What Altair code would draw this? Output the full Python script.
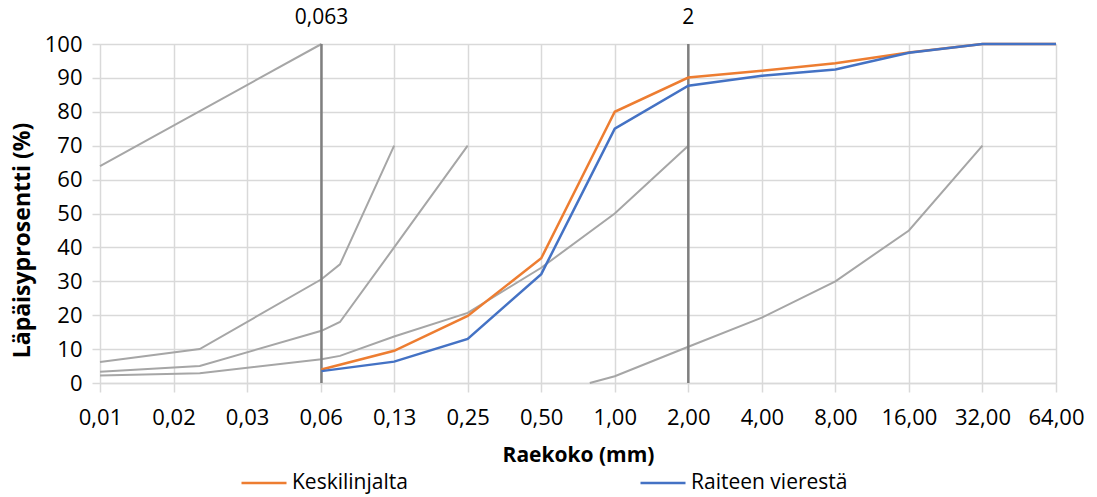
import altair as alt
import pandas as pd

# ---- data ----
tick_values = [0.0078125, 0.015625, 0.03125, 0.0625, 0.125, 0.25, 0.5, 1, 2, 4, 8, 16, 32, 64]
y_ticks = [0, 10, 20, 30, 40, 50, 60, 70, 80, 90, 100]

sieve = [0.063, 0.125, 0.25, 0.5, 1, 2, 4, 8, 16, 32, 64]
keskilinjalta = [4.0, 9.5, 19.8, 36.8, 80.0, 90.1, 92.1, 94.3, 97.5, 100, 100]
raiteen_vieresta = [3.5, 6.3, 13.0, 32.1, 75.0, 87.7, 90.6, 92.5, 97.4, 100, 100]

g1_x = [0.0078125, 0.063]
g1_y = [64, 100]
g2_x = [0.0078125, 0.02, 0.063, 0.075, 0.125]
g2_y = [6.2, 10, 30.6, 35, 70]
g3_x = [0.0078125, 0.02, 0.063, 0.075, 0.125, 0.25]
g3_y = [3.3, 5, 15.4, 18, 40, 70]
g4_x = [0.0078125, 0.02, 0.063, 0.075, 0.125, 0.25, 0.5, 1, 2]
g4_y = [2.2, 2.9, 7, 8, 13.7, 20.7, 34, 50, 70]
g5_x = [0.79, 1, 2, 4, 8, 16, 32]
g5_y = [0, 2, 10.7, 19.3, 30, 45, 70]

ref_x = [0.063, 2]
ref_label = ["0,063", "2"]

series_names = ["Keskilinjalta", "Raiteen vierestä"]
series_colors = ["#ED7D31", "#4472C4"]

FONT = "Open Sans"

# ---- tables ----
rows = []
for name, vals in zip(series_names, [keskilinjalta, raiteen_vieresta]):
    for i, (x, y) in enumerate(zip(sieve, vals)):
        rows.append({"series": name, "x": x, "y": y, "order": i})
main_df = pd.DataFrame(rows)

grows = []
for gi, (gx, gy) in enumerate([(g1_x, g1_y), (g2_x, g2_y), (g3_x, g3_y), (g4_x, g4_y), (g5_x, g5_y)]):
    for i, (x, y) in enumerate(zip(gx, gy)):
        grows.append({"curve": f"g{gi+1}", "x": x, "y": y, "order": i})
gray_df = pd.DataFrame(grows)

ref_df = pd.DataFrame({"x": ref_x, "label": ref_label})

xscale = alt.Scale(type="log", base=2, domain=[0.0078125, 64], nice=False)
yscale = alt.Scale(domain=[0, 100], nice=False)

xaxis = alt.Axis(
    values=tick_values,
    labelExpr="replace(format(datum.value, '.2f'), '.', ',')",
    title="Raekoko (mm)",
    grid=True, gridColor="#D9D9D9", gridWidth=1.5,
    tickColor="#D9D9D9", tickSize=9, tickWidth=1.5,
    domainColor="#D9D9D9", domainWidth=1.5,
    labelPadding=25, labelBaseline="middle",
    labelFont=FONT, labelFontSize=22, labelColor="#000000",
    titleFont=FONT, titleFontSize=21, titleFontWeight="bold", titleColor="#000000",
    titleX=478, titleY=72, titleBaseline="middle",
    labelFlush=False, labelOverlap=False,
)
yaxis = alt.Axis(
    values=y_ticks,
    title="Läpäisyprosentti (%)",
    grid=True, gridColor="#D9D9D9", gridWidth=1.5,
    tickColor="#D9D9D9", tickSize=8, tickWidth=1.5,
    domain=False,
    labelPadding=10,
    labelFont=FONT, labelFontSize=22, labelColor="#000000",
    titleFont=FONT, titleFontSize=23, titleFontWeight="bold", titleColor="#000000",
    titleX=-78, titleY=196, titleBaseline="middle", titleAngle=-90,
    labelFlush=False, labelOverlap=False,
)

X = alt.X("x:Q", scale=xscale, axis=xaxis)
Y = alt.Y("y:Q", scale=yscale, axis=yaxis)

gray = alt.Chart(gray_df).mark_line(color="#A6A6A6", strokeWidth=2).encode(
    x=X, y=Y,
    detail="curve:N",
    order="order:Q",
)

rules = alt.Chart(ref_df).mark_rule(color="#7F7F7F", strokeWidth=2.5).encode(
    x=X,
)
rule_text = alt.Chart(ref_df).mark_text(font=FONT, fontSize=21, color="#000000", baseline="middle").encode(
    x=X,
    y=alt.value(-26),
    text="label:N",
)

main = alt.Chart(main_df).mark_line(strokeWidth=2.5).encode(
    x=X, y=Y,
    color=alt.Color(
        "series:N",
        scale=alt.Scale(domain=series_names, range=series_colors),
        legend=alt.Legend(
            title=None, orient="none", legendX=140, legendY=415,
            direction="horizontal", columns=2, columnPadding=227,
            symbolType="stroke", symbolSize=2025, symbolStrokeWidth=2.5,
            labelFont=FONT, labelFontSize=21, labelColor="#000000",
            labelOffset=4, padding=0,
        ),
    ),
    order="order:Q",
)

chart = alt.layer(gray, rules, rule_text, main).properties(
    width=956, height=339,
    autosize=alt.AutoSizeParams(type="none"),
    padding={"left": 100, "top": 44, "right": 41, "bottom": 114},
).configure_view(stroke=None).configure(background="white")

chart.save("out.html", embed_options={"renderer": "svg", "actions": False})
